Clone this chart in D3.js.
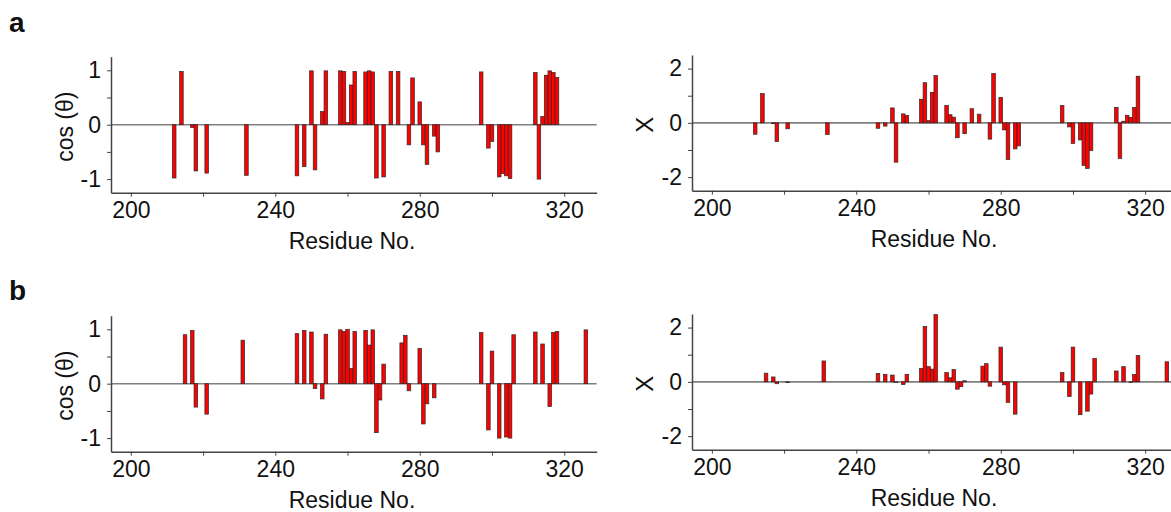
<!DOCTYPE html>
<html>
<head>
<meta charset="utf-8">
<script src="https://cdn.jsdelivr.net/npm/d3@7"></script>
<style>
  body { margin: 0; background: #fff; }
  text { font-family: Arial, "Liberation Sans", sans-serif; fill: #111; }
</style>
</head>
<body>
<div id="chart"></div>
<script>
// residues + values, panel a
const residuesA = [212, 214, 217, 218, 221, 232, 246, 248, 250, 251, 253, 254, 258, 259, 260, 261, 262,
  265, 266, 267, 268, 270, 272, 274, 277, 278, 280, 281, 282, 284, 285, 297, 299, 300,
  302, 303, 304, 305, 312, 313, 314, 315, 316, 317, 318];
const cosA = [-0.98, 0.98, -0.05, -0.85, -0.89, -0.93, -0.94, -0.77, 0.99, -0.83, 0.24, 0.99, 0.99, 0.98, 0.04, 0.73, 0.98,
  0.97, 0.99, 0.97, -0.98, -0.96, 0.98, 0.98, -0.37, 0.86, 0.42, -0.37, -0.73, -0.21, -0.50, 0.97, -0.43, -0.31,
  -0.96, -0.90, -0.94, -0.99, 0.96, -1.00, 0.15, 0.91, 0.99, 0.96, 0.87];
const chiA = [-0.42, 1.08, -0.03, -0.69, -0.22, -0.43, -0.20, -0.12, 0.55, -1.45, 0.33, 0.27, 0.87, 1.48, 0.08, 1.12, 1.74,
  0.64, 0.30, 0.21, -0.55, -0.40, 0.52, 0.32, -0.60, 1.82, 0.94, -0.26, -1.35, -0.96, -0.85, 0.64, -0.15, -0.76,
  -0.63, -1.57, -1.68, -1.02, 0.57, -1.31, 0.06, 0.28, 0.20, 0.57, 1.72];

// residues + values, panel b
const residuesB = [215, 217, 218, 221, 231, 246, 248, 250, 251, 253, 254, 258, 259, 260, 261, 262,
  265, 266, 267, 268, 269, 270, 275, 276, 277, 280, 281, 282, 284, 297, 299, 300,
  302, 304, 305, 306, 312, 314, 316, 317, 318, 326];
const cosB = [0.90, 0.98, -0.43, -0.56, 0.80, 0.92, 0.98, 0.95, -0.09, -0.28, 0.91, 0.99, 0.96, 1.00, 0.28, 0.96,
  0.98, 0.71, 0.99, -0.90, -0.30, 0.36, 0.75, 0.89, -0.13, 0.65, -0.74, -0.37, -0.26, 0.94, -0.85, 0.60,
  -1.00, -0.98, -1.00, 0.90, 0.95, 0.73, -0.42, 0.94, 0.96, 0.99];
const chiB = [0.32, 0.18, -0.07, -0.03, 0.77, 0.31, 0.28, 0.25, -0.02, -0.10, 0.28, 0.49, 2.04, 0.56, 0.47, 2.48,
  0.34, 0.15, 0.45, -0.27, -0.18, 0.04, 0.58, 0.67, -0.16, 1.28, -0.11, -0.76, -1.19, 0.34, -0.54, 1.28,
  -1.21, -1.08, -0.45, 0.86, 0.40, 0.56, -0.02, 0.27, 0.97, 0.74];

// axis ticks
const xTicks = [200, 220, 240, 260, 280, 300, 320];
const xTickLabels = [200, 240, 280, 320];
const cosTicks = [-1, -0.5, 0, 0.5, 1];
const chiTicks = [-2, -1, 0, 1, 2];
const cosLabel = "cos (\u03b8)";
const chiLabel = "X";
const xLabel = "Residue No.";

const W = 1171, H = 512;
const svg = d3.select("#chart").append("svg")
  .attr("width", W).attr("height", H);

function drawPanel(opt) {
  const g = svg.append("g").attr("transform", `translate(0,${opt.dy})`);

  // scales
  const x = d3.scaleLinear().domain([194.5, 329]).range([opt.left, opt.left + 485.7]);
  const y = d3.scaleLinear().domain(opt.yDomain).range([opt.bottom, opt.top]);

  // zero line
  g.append("line")
    .attr("x1", opt.left).attr("x2", x(329))
    .attr("y1", y(0)).attr("y2", y(0))
    .attr("stroke", "#808080").attr("stroke-width", 1.6);

  // bars
  const data = opt.residues.map((r, i) => ({ r, v: opt.values[i] }));
  g.selectAll("rect.bar")
    .data(data)
    .enter().append("rect")
      .attr("class", "bar")
      .attr("x", d => x(d.r - 0.5))
      .attr("width", d => x(d.r + 0.5) - x(d.r - 0.5))
      .attr("y", d => y(Math.max(0, d.v)))
      .attr("height", d => Math.abs(y(d.v) - y(0)))
      .attr("fill", "#ff0000")
      .attr("stroke", "#2a2a2a")
      .attr("stroke-width", 0.7);

  // x axis
  const xa = g.append("g")
    .attr("transform", `translate(0,${opt.bottom})`)
    .call(d3.axisBottom(x).tickValues(xTicks).tickSize(4).tickSizeOuter(0).tickPadding(5)
      .tickFormat(d => xTickLabels.includes(d) ? d : ""));

  // y axis
  const ya = g.append("g")
    .attr("transform", `translate(${opt.left},0)`)
    .call(d3.axisLeft(y).tickValues(opt.yTicks).tickSize(4).tickSizeOuter(0).tickPadding(6)
      .tickFormat(d => opt.yLabels.includes(d) ? String(d) : ""));

  [xa, ya].forEach(a => {
    a.select(".domain").attr("stroke", "#444").attr("stroke-width", 1.5);
    a.selectAll(".tick line").attr("stroke", "#444").attr("stroke-width", 1);
    a.selectAll(".tick text").style("font-size", "23px").attr("fill", "#111");
  });

  // axis titles
  g.append("text")
    .attr("x", opt.xLabelX).attr("y", opt.bottom + 56)
    .attr("text-anchor", "middle")
    .style("font-size", "23px")
    .text(xLabel);

  g.append("text")
    .attr("transform", `translate(${opt.yLabelX},${(opt.top + opt.bottom) / 2 + 2}) rotate(-90)`)
    .attr("text-anchor", "middle")
    .attr("dy", "0.35em")
    .style("font-size", opt.yLabelSize)
    .text(opt.yLabel);
}

const rows = [
  { dy: 0, cos: cosA, chi: chiA, res: residuesA },
  { dy: 259, cos: cosB, chi: chiB, res: residuesB }
];

rows.forEach(row => {
  drawPanel({ dy: row.dy, left: 111, top: 56.7, bottom: 192.7, yDomain: [-1.25, 1.25],
    yTicks: cosTicks, yLabels: [-1, 0, 1], yLabel: cosLabel, yLabelX: 65, yLabelSize: "23px",
    xLabelX: 352, residues: row.res, values: row.cos });
  drawPanel({ dy: row.dy, left: 692, top: 55, bottom: 190.7, yDomain: [-2.5, 2.5],
    yTicks: chiTicks, yLabels: [-2, 0, 2], yLabel: chiLabel, yLabelX: 645, yLabelSize: "24px",
    xLabelX: 934, residues: row.res, values: row.chi });
});

// panel letters
svg.append("text").attr("x", 9).attr("y", 32)
  .style("font-size", "28px").style("font-weight", "bold").text("a");
svg.append("text").attr("x", 9).attr("y", 300)
  .style("font-size", "28px").style("font-weight", "bold").text("b");
</script>
</body>
</html>
